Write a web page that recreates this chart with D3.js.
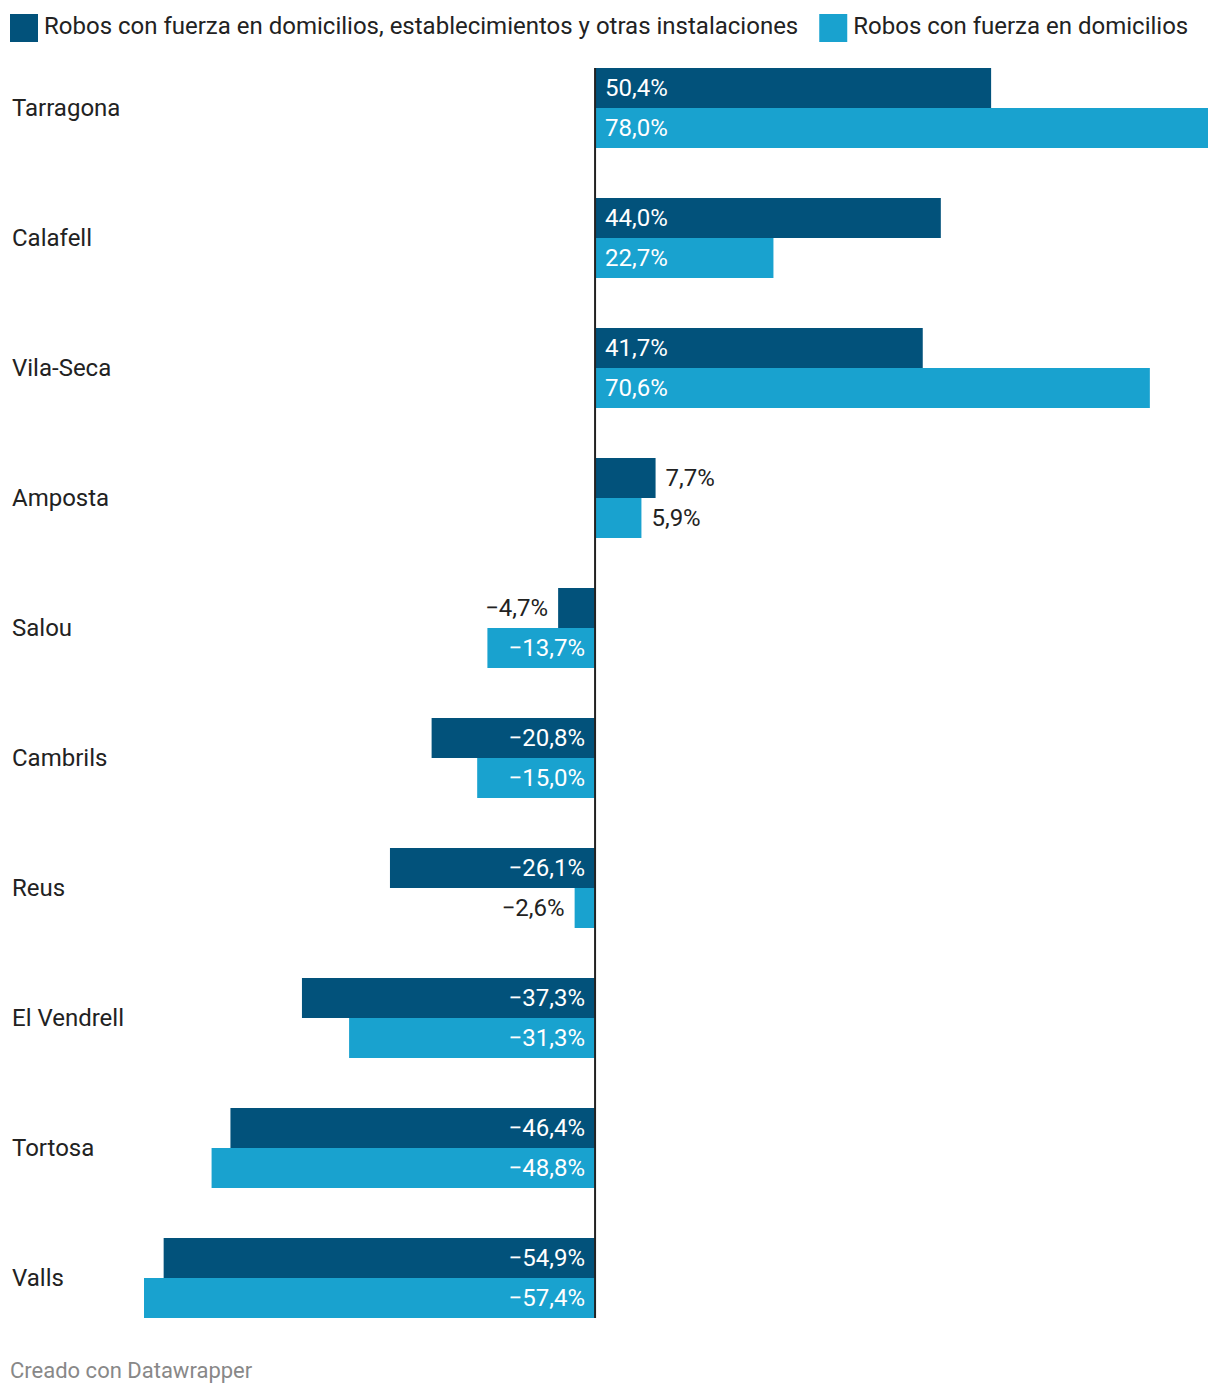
<!DOCTYPE html>
<html>
<head>
<meta charset="utf-8">
<script src="https://cdn.jsdelivr.net/npm/d3@7"></script>
<style>
  html, body { margin: 0; padding: 0; background: #fff; }
  svg { display: block; font-family: Roboto, "Noto Sans", sans-serif; }
</style>
</head>
<body>
<svg id="chart" width="1220" height="1396"></svg>
<script>
const categories = ["Tarragona", "Calafell", "Vila-Seca", "Amposta", "Salou", "Cambrils", "Reus", "El Vendrell", "Tortosa", "Valls"];
const seriesNames = ["Robos con fuerza en domicilios, establecimientos y otras instalaciones", "Robos con fuerza en domicilios"];
const seriesAll = [50.4, 44.0, 41.7, 7.7, -4.7, -20.8, -26.1, -37.3, -46.4, -54.9];
const seriesDom = [78.0, 22.7, 70.6, 5.9, -13.7, -15.0, -2.6, -31.3, -48.8, -57.4];
const colors = ["#02527b", "#19a2cf"];
const footer = "Creado con Datawrapper";

const svg = d3.select("#chart");
const seriesValues = [seriesAll, seriesDom];
const allVals = seriesAll.concat(seriesDom);

const x = d3.scaleLinear()
  .domain([d3.min(allVals), d3.max(allVals)])
  .range([144, 1208]);

const y = d3.scaleBand()
  .domain(categories)
  .range([68, 1318])
  .paddingInner(50 / 130)
  .paddingOuter(0);

const ySub = d3.scaleBand()
  .domain([0, 1])
  .range([0, y.bandwidth()]);

const fmt = v => (v < 0 ? "\u2212" : "") + Math.abs(v).toFixed(1).replace(".", ",") + "%";

// Legend
let lx = 10;
seriesNames.forEach((name, i) => {
  svg.append("rect").attr("x", lx).attr("y", 14).attr("width", 28).attr("height", 28).attr("fill", colors[i]);
  const t = svg.append("text").attr("x", lx + 34).attr("y", 34)
    .attr("font-size", 24).attr("fill", "#222").text(name);
  lx += 34 + t.node().getComputedTextLength() + 21;
});

// Category labels
svg.append("g").selectAll("text").data(categories).join("text")
  .attr("x", 12)
  .attr("y", d => y(d) + y.bandwidth() / 2)
  .attr("dy", "0.35em")
  .attr("font-size", 24)
  .attr("fill", "#222")
  .text(d => d);

// Bars
const barData = [];
categories.forEach((c, ci) => {
  seriesValues.forEach((vals, si) => {
    barData.push({ cat: c, s: si, v: vals[ci] });
  });
});

const g = svg.append("g");
g.selectAll("rect").data(barData).join("rect")
  .attr("x", d => Math.min(x(0), x(d.v)))
  .attr("y", d => y(d.cat) + ySub(d.s))
  .attr("width", d => Math.abs(x(d.v) - x(0)))
  .attr("height", ySub.bandwidth())
  .attr("fill", d => colors[d.s]);

// Value labels
const lg = svg.append("g");
barData.forEach(d => {
  const t = lg.append("text")
    .attr("font-size", 24)
    .text(fmt(d.v));
  const w = t.node().getComputedTextLength();
  const bw = Math.abs(x(d.v) - x(0));
  const inside = w + 20 <= bw;
  const cy = y(d.cat) + ySub(d.s) + ySub.bandwidth() / 2;
  t.attr("y", cy).attr("dy", "0.35em");
  if (d.v >= 0) {
    if (inside) t.attr("x", x(0) + 10).attr("text-anchor", "start").attr("fill", "#fff");
    else t.attr("x", x(d.v) + 10).attr("text-anchor", "start").attr("fill", "#222");
  } else {
    if (inside) t.attr("x", x(0) - 10).attr("text-anchor", "end").attr("fill", "#fff");
    else t.attr("x", x(d.v) - 10).attr("text-anchor", "end").attr("fill", "#222");
  }
});

// Zero line
svg.append("line")
  .attr("x1", x(0)).attr("x2", x(0))
  .attr("y1", 68).attr("y2", 1318)
  .attr("stroke", "#222").attr("stroke-width", 2);

// Footer
svg.append("text").attr("x", 10).attr("y", 1378)
  .attr("font-size", 22).attr("fill", "#888").text(footer);
</script>
</body>
</html>
